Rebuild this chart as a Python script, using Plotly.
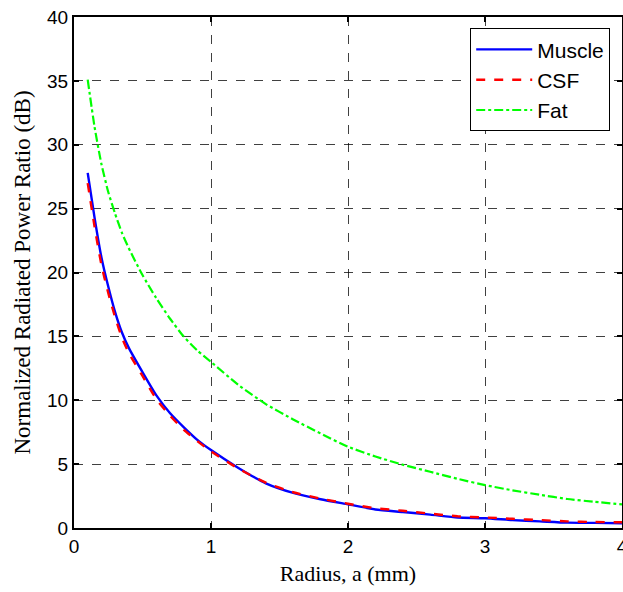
import plotly.graph_objects as go

# Radius samples (mm)
radius = [0.1, 0.15, 0.2, 0.25, 0.3, 0.35, 0.4, 0.5, 0.6, 0.7, 0.8, 0.9, 1.0,
          1.2, 1.4, 1.6, 1.8, 2.0, 2.2, 2.4, 2.6, 2.8, 3.0,
          3.2, 3.4, 3.6, 3.8, 4.0]

# Normalized radiated power ratio (dB) per tissue
muscle = [27.8, 24.3, 21.2, 18.9, 16.9, 15.3, 14.1, 12.2, 10.4, 9.0, 7.9, 6.9, 6.1,
          4.7, 3.5, 2.75, 2.25, 1.85, 1.45, 1.25, 1.05, 0.82, 0.76,
          0.62, 0.52, 0.42, 0.40, 0.37]
csf = [27.0, 23.6, 20.6, 18.4, 16.5, 14.9, 13.7, 11.9, 10.1, 8.8, 7.7, 6.8, 6.0,
       4.65, 3.55, 2.8, 2.3, 1.9, 1.55, 1.35, 1.12, 0.92, 0.82,
       0.72, 0.62, 0.52, 0.47, 0.45]
fat = [35.1, 31.4, 28.5, 26.3, 24.6, 23.1, 21.9, 19.8, 18.0, 16.4, 15.0, 13.9, 13.0,
       11.2, 9.7, 8.5, 7.4, 6.36, 5.6, 4.95, 4.4, 3.85, 3.36,
       2.95, 2.6, 2.27, 2.05, 1.85]

x_ticks = [0, 1, 2, 3, 4]
y_ticks = [0, 5, 10, 15, 20, 25, 30, 35, 40]

fig = go.Figure()
fig.add_trace(go.Scatter(x=radius, y=muscle, name="Muscle", mode="lines",
                         line=dict(color="#0000ff", width=2.4, shape="spline", smoothing=0.6)))
fig.add_trace(go.Scatter(x=radius, y=csf, name="CSF", mode="lines",
                         line=dict(color="#ff0000", width=2.4, dash="dash",
                                   shape="spline", smoothing=0.6)))
fig.add_trace(go.Scatter(x=radius, y=fat, name="Fat", mode="lines",
                         line=dict(color="#00ff00", width=2.2, dash="dashdot",
                                   shape="spline", smoothing=0.6)))

axis_common = dict(
    showline=True, linecolor="black", linewidth=2, mirror="ticks",
    ticks="inside", ticklen=5, tickwidth=1.5, tickcolor="black",
    showgrid=True, gridcolor="rgba(0,0,0,0.75)", gridwidth=1, griddash="dash",
    zeroline=False, ticklabeloverflow="allow", automargin=False,
    tickfont=dict(family="Liberation Sans, Arial", size=19, color="black"),
)

fig.update_xaxes(range=[0, 4], tickvals=x_ticks,
                 title=dict(text="Radius, a (mm)", standoff=10,
                            font=dict(family="Liberation Serif, Times New Roman",
                                      size=22, color="black")),
                 **axis_common)
fig.update_yaxes(range=[0, 40], tickvals=y_ticks,
                 title=dict(text="Normalized Radiated Power Ratio (dB)", standoff=10,
                            font=dict(family="Liberation Serif, Times New Roman",
                                      size=23, color="black")),
                 **axis_common)

fig.update_layout(
    width=623, height=592,
    margin=dict(l=74, r=1, t=17, b=64),
    plot_bgcolor="white", paper_bgcolor="white",
    legend=dict(x=0.723, y=0.978, xanchor="left", yanchor="top",
                bgcolor="white", bordercolor="black", borderwidth=1,
                font=dict(family="Liberation Sans, Arial", size=21, color="black"),
                tracegroupgap=0, itemwidth=56),
    showlegend=True,
)

fig.write_html("out.html")
